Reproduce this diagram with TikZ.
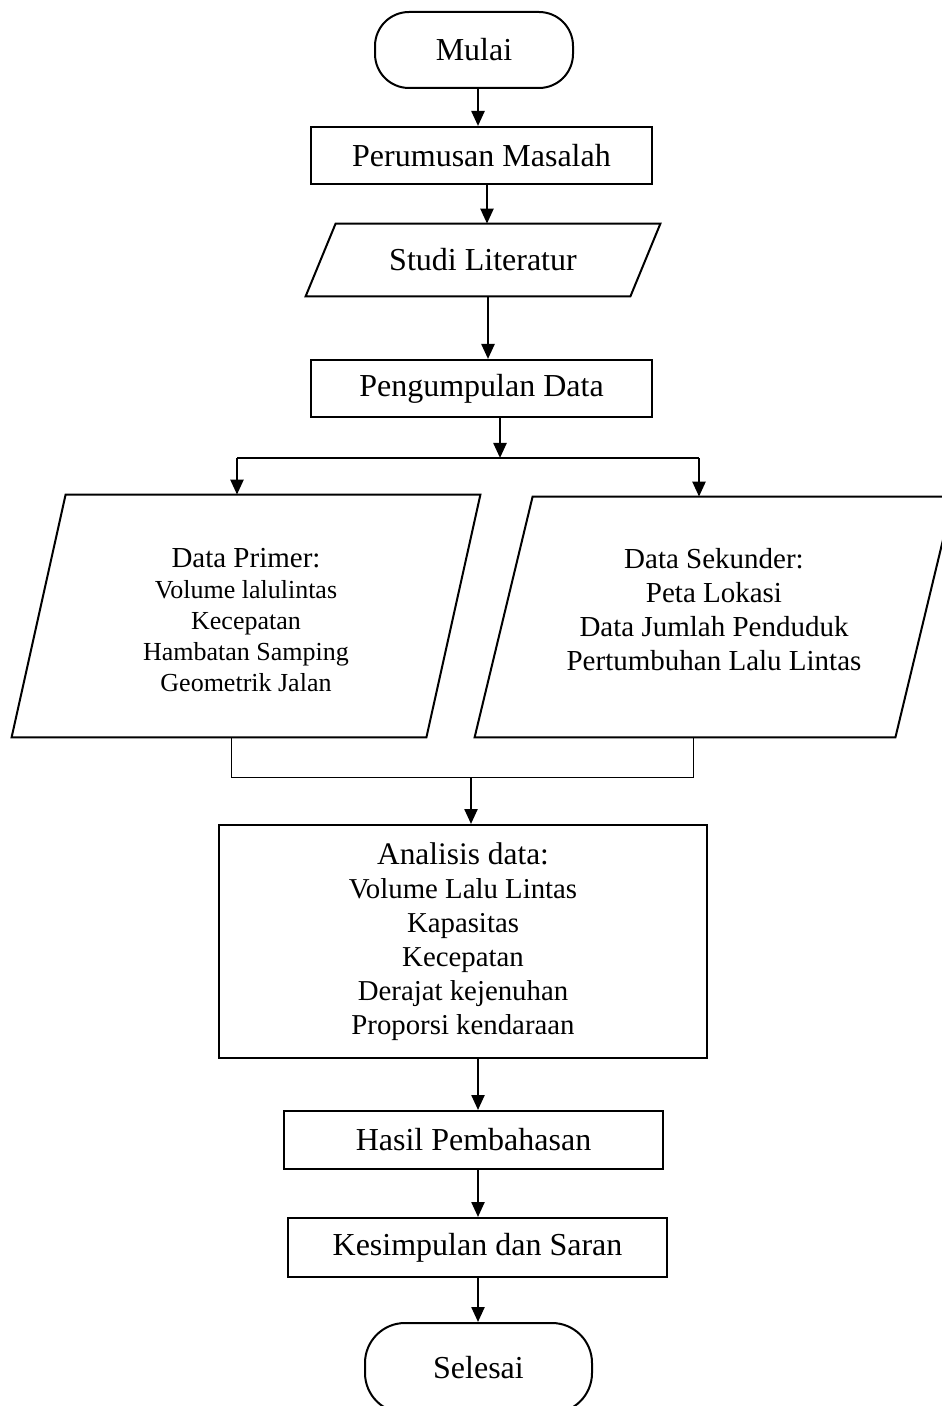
\documentclass[tikz,border=0pt]{standalone}
\usepackage{fontspec}
\setmainfont{Liberation Serif}
\usetikzlibrary{arrows.meta}
\newcommand{\paraoutline}[2]{%
  \draw[shapeline] ([xshift=#2]#1.north west) -- ([xshift=#2]#1.north east)
    -- ([xshift=-#2]#1.south east) -- ([xshift=-#2]#1.south west) -- cycle;}
\begin{document}
\begin{tikzpicture}[x=0.5pt,y=-0.5pt,
  shapeline/.style={line width=1pt},
  procbox/.style={draw, line width=1pt, inner sep=0pt, align=center,
    font=\fontsize{16}{19}\selectfont},
  termbox/.style={procbox, rounded corners=17pt},
  parabox/.style={inner sep=0pt, align=center},
  arr/.style={-{Triangle[length=7.5pt,width=6.5pt]}, line width=1.2pt},
  flow/.style={line width=1.1pt},
  thinline/.style={line width=0.5pt}]
\useasboundingbox (0,0) rectangle (941,1406);
\fill[white] (0,0) rectangle (941,1406);

\node[termbox, minimum width=99pt, minimum height=38pt] (mulai) at (474,50) {Mulai};
\node[procbox, minimum width=170.5pt, minimum height=28.5pt] (perumusan) at (481.5,155.5) {Perumusan Masalah};
\node[parabox, minimum width=162pt, minimum height=36pt, font=\fontsize{16}{19}\selectfont] (studi) at (483,260) {Studi Literatur};
\paraoutline{studi}{7.5pt}
\node[procbox, minimum width=170.5pt, minimum height=28.5pt] (kumpul) at (481.5,388.5) {Pengumpulan Data};

\node[parabox, minimum width=207pt, minimum height=121pt, font=\fontsize{13}{15.5}\selectfont] (primer) at (246,616)
  {{\fontsize{14.5}{15.5}\selectfont\rule{0pt}{14pt}Data Primer:}\\Volume lalulintas\\Kecepatan\\Hambatan Samping\\Geometrik Jalan};
\paraoutline{primer}{13.5pt}
\node[parabox, minimum width=210pt, minimum height=120pt, font=\fontsize{14.5}{17}\selectfont] (sekunder) at (714,617)
  {Data Sekunder:\\Peta Lokasi\\Data Jumlah Penduduk\\Pertumbuhan Lalu Lintas\rule[-8pt]{0pt}{8pt}};
\paraoutline{sekunder}{14.5pt}

\node[procbox, minimum width=244pt, minimum height=116.5pt, font=\fontsize{14.4}{17}\selectfont] (analisis) at (463,941.5)
  {{\fontsize{15.7}{17}\selectfont Analisis data:}\\Volume Lalu Lintas\\Kapasitas\\Kecepatan\\Derajat kejenuhan\\Proporsi kendaraan};
\node[procbox, minimum width=189.5pt, minimum height=29pt] (hasil) at (473.5,1140) {Hasil Pembahasan};
\node[procbox, minimum width=189.5pt, minimum height=29.5pt] (kesimpulan) at (477.5,1247.5) {Kesimpulan dan Saran};
\node[termbox, minimum width=113.5pt, minimum height=45pt, rounded corners=20pt] (selesai) at (478.5,1368) {Selesai};

\coordinate (split) at (500,458);
\coordinate (splitL) at (237,458);
\coordinate (splitR) at (699,458);
\coordinate (mergeL) at (231,777);
\coordinate (mergeR) at (693,777);
\coordinate (merge) at (471,777);

\draw[arr] ([xshift=2pt]mulai.south) -- ([xshift=2pt]perumusan.north -| mulai.south);
\draw[arr] ([xshift=2.75pt]perumusan.south) -- ([xshift=2.75pt]studi.north -| perumusan.south);
\draw[arr] ([xshift=2.5pt]studi.south) -- ([xshift=2.5pt]kumpul.north -| studi.south);
\draw[arr] ([xshift=9.25pt]kumpul.south) -- (split);
\draw[flow] (splitL) -- (splitR);
\draw[arr] (splitL) -- (splitL |- primer.north);
\draw[arr] (splitR) -- (splitR |- sekunder.north);
\draw[thinline] (mergeL |- primer.south) -- (mergeL) -- (mergeR) -- (mergeR |- sekunder.south);
\draw[arr] (merge) -- (merge |- analisis.north);
\draw[arr] ([xshift=7.5pt]analisis.south) -- ([xshift=7.5pt]hasil.north -| analisis.south);
\draw[arr] ([xshift=2.25pt]hasil.south) -- ([xshift=2.25pt]kesimpulan.north -| hasil.south);
\draw[arr] ([xshift=0.25pt]kesimpulan.south) -- ([xshift=0.25pt]selesai.north -| kesimpulan.south);
\end{tikzpicture}
\end{document}
